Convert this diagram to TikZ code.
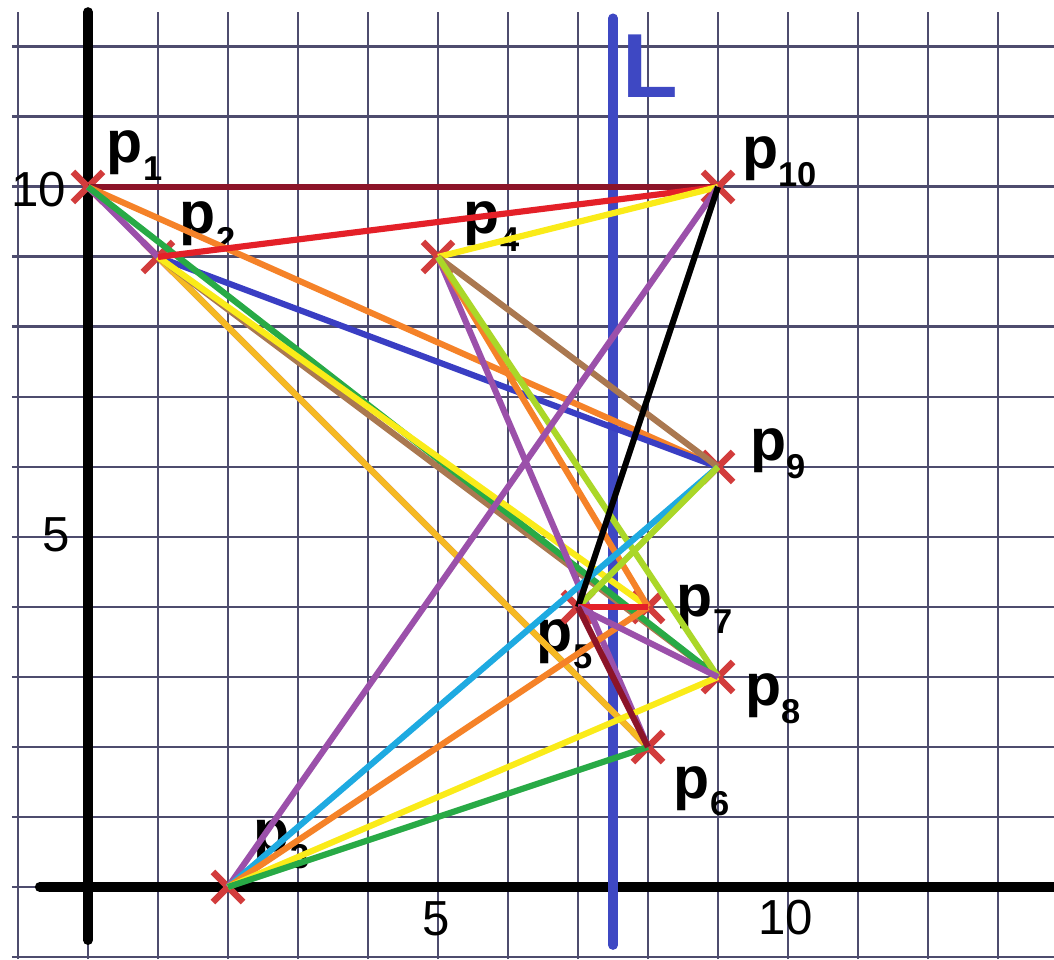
\documentclass[tikz,border=0pt]{standalone}
\usepackage{fontspec}
\setmainfont{Liberation Sans}
\usetikzlibrary{shapes.misc}
\definecolor{gridc}{RGB}{78,76,110}
\definecolor{cmaroon}{RGB}{140,20,40}
\definecolor{cred}{RGB}{228,32,40}
\definecolor{cyel}{RGB}{250,235,25}
\definecolor{corange}{RGB}{245,130,40}
\definecolor{cblue}{RGB}{58,62,195}
\definecolor{cpurple}{RGB}{155,80,170}
\definecolor{cgold}{RGB}{245,185,35}
\definecolor{cgreen}{RGB}{40,170,70}
\definecolor{cbrown}{RGB}{170,120,80}
\definecolor{clime}{RGB}{170,215,40}
\definecolor{ccyan}{RGB}{30,170,225}
\definecolor{cLine}{RGB}{62,72,195}
\definecolor{cross}{RGB}{210,60,60}
\newcommand\plab[1]{p\raisebox{-0.25cm}{\fontsize{14pt}{14pt}\selectfont #1}}
\tikzset{
  gridst/.style={draw=gridc, line width=1.2pt},
  axisst/.style={line width=3.9pt, line cap=round, black},
  seg/.style={line width=2.5pt},
  ptmark/.style={cross out, draw=cross, line width=2.6pt, minimum size=0.34cm, inner sep=0pt},
  plabel/.style={anchor=base west, inner sep=0pt, font=\fontsize{24pt}{24pt}\selectfont\bfseries},
  tick/.style={inner sep=0pt, font=\fontsize{20pt}{20pt}\selectfont}
}
\begin{document}
\begin{tikzpicture}
\useasboundingbox (-1.257,-1.029) rectangle (13.8,12.671);
\fill[white] (-1.257,-1.029) rectangle (13.8,12.671);
\draw[gridst] (-1.086,-1.03) grid (13.8,12.5);
% axes
\draw[axisst] (0,12.5) -- (0,-0.76);
\draw[axisst] (-0.69,0) -- (13.9,0);
% L line
\draw[line width=3.9pt, line cap=round, cLine] (7.5,12.41) -- (7.5,-0.83);
\node[anchor=base west, inner sep=0pt, text=cLine, font=\fontsize{37pt}{37pt}\selectfont\bfseries] (Llab) at (7.63,11.271) {L};
% tick labels
\node[tick, anchor=east] (t10y) at (-0.31,9.96) {10};
\node[tick, anchor=east] (t5y) at (-0.25,5.03) {5};
\node[tick] (t5x) at (4.97,-0.457) {5};
\node[tick] (t10x) at (9.97,-0.443) {10};
% points
\coordinate (p1) at (0,10);
\coordinate (p2) at (1,9);
\coordinate (p3) at (2,0);
\coordinate (p4) at (5,9);
\coordinate (p5) at (7,4);
\coordinate (p6) at (8,2);
\coordinate (p7) at (8,4);
\coordinate (p8) at (9,3);
\coordinate (p9) at (9,6);
\coordinate (p10) at (9,10);
% labels
\node[plabel] (l1) at (0.264,10.343) {\plab{1}};
\node[plabel] (l2) at (1.307,9.329) {\plab{2}};
\node[plabel] (l3) at (2.364,0.514) {\plab{3}};
\node[plabel] (l4) at (5.364,9.329) {\plab{4}};
\node[plabel] (l5) at (6.407,3.371) {\plab{5}};
\node[plabel] (l6) at (8.364,1.271) {\plab{6}};
\node[plabel] (l7) at (8.407,3.871) {\plab{7}};
\node[plabel] (l8) at (9.379,2.586) {\plab{8}};
\node[plabel] (l9) at (9.45,6.086) {\plab{9}};
\node[plabel] (l10) at (9.336,10.257) {\plab{10}};
% crosses
\foreach \q in {p1,p2,p3,p4,p5,p6,p7,p8,p9,p10}
  \node[ptmark] (m\q) at (\q) {};
% segments
\draw[seg, cmaroon] (p1) -- (p10);
\draw[seg, cpurple] (p1) -- (p6);
\draw[seg, cgold] (p2) -- (p6);
\draw[seg, corange] (p1) -- (p9);
\draw[seg, cblue] (p2) -- (p9);
\draw[seg, cbrown] (p2) -- (p8);
\draw[seg, cgreen] (p1) -- (p8);
\draw[seg, cyel] (p2) -- (p7);
\draw[seg, cred] (p2) -- (p10);
\draw[seg, cyel] (p4) -- (p10);
\draw[seg, cbrown] (p4) -- (p9);
\draw[seg, cpurple] (p4) -- (p6);
\draw[seg, corange] (p4) -- (p7);
\draw[seg, clime] (p4) -- (p8);
\draw[seg, cpurple] (p3) -- (p10);
\draw[seg, ccyan] (p3) -- (p9);
\draw[seg, corange] (p3) -- (p7);
\draw[seg, cyel] (p3) -- (p8);
\draw[seg, cgreen] (p3) -- (p6);
\draw[seg, clime] (p5) -- (p9);
\draw[seg, black] (p5) -- (p10);
\draw[seg, cred] (p5) -- (p7);
\draw[seg, cpurple] (p5) -- (p8);
\draw[seg, cmaroon] (p5) -- (p6);
\end{tikzpicture}
\end{document}
